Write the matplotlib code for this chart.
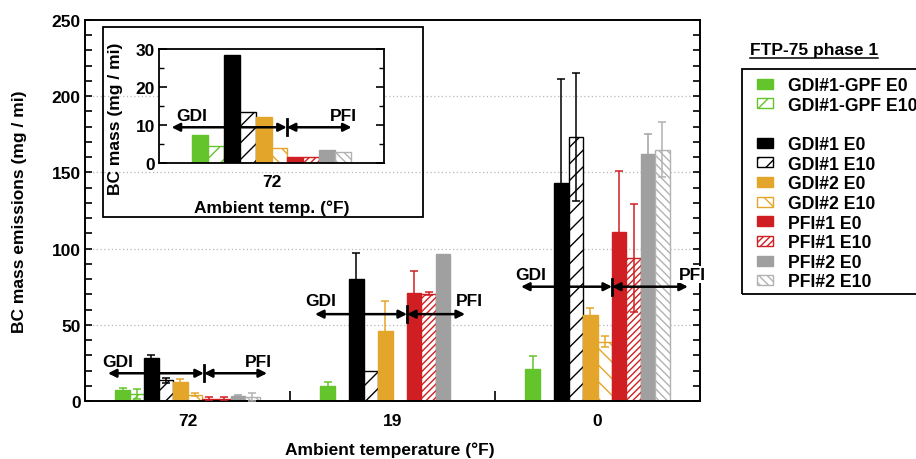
import numpy as np
import matplotlib
matplotlib.use("Agg")
import matplotlib.pyplot as plt
from matplotlib.patches import Patch, Rectangle
from matplotlib.lines import Line2D

plt.rcParams['font.family'] = ['Liberation Sans', 'DejaVu Sans']
plt.rcParams['font.weight'] = 'bold'
plt.rcParams['hatch.linewidth'] = 1.0

# ---------------- data ----------------
categories = ['72', '19', '0']
series = ['GDI#1-GPF E0', 'GDI#1-GPF E10', 'GDI#1 E0', 'GDI#1 E10', 'GDI#2 E0',
          'GDI#2 E10', 'PFI#1 E0', 'PFI#1 E10', 'PFI#2 E0', 'PFI#2 E10']
gpf_e0 = [7.5, 10.0, 21.0]
gpf_e0_err = [1.0, 2.2, 8.7]
gpf_e10 = [4.5, np.nan, np.nan]
gpf_e10_err = [3.5, np.nan, np.nan]
gdi1_e0 = [28.5, 80.0, 143.0]
gdi1_e0_err = [2.0, 17.0, 68.0]
gdi1_e10 = [13.5, 19.5, 173.0]
gdi1_e10_err = [1.5, 0.0, 42.0]
gdi2_e0 = [12.2, 46.0, 56.5]
gdi2_e0_err = [2.5, 19.5, 4.5]
gdi2_e10 = [4.0, np.nan, 39.0]
gdi2_e10_err = [1.0, np.nan, 3.5]
pfi1_e0 = [1.6, 71.0, 111.0]
pfi1_e0_err = [1.0, 14.0, 40.0]
pfi1_e10 = [1.6, 70.5, 94.0]
pfi1_e10_err = [0.8, 1.2, 35.5]
pfi2_e0 = [3.5, 96.5, 162.0]
pfi2_e0_err = [0.7, 0.0, 13.0]
pfi2_e10 = [2.8, np.nan, 165.0]
pfi2_e10_err = [2.5, np.nan, 18.0]

values = [gpf_e0, gpf_e10, gdi1_e0, gdi1_e10, gdi2_e0, gdi2_e10, pfi1_e0, pfi1_e10, pfi2_e0, pfi2_e10]
errors = [gpf_e0_err, gpf_e10_err, gdi1_e0_err, gdi1_e10_err, gdi2_e0_err, gdi2_e10_err,
          pfi1_e0_err, pfi1_e10_err, pfi2_e0_err, pfi2_e10_err]

# GDI / PFI annotation heights (data units)
arrow_y = [18.2, 57.0, 75.0]
label_y = [26.0, 66.0, 83.0]
inset_arrow_y = 9.4
inset_label_y = 12.5

# ---------------- styles ----------------
green = '#63c42b'
orange = '#e4a52b'
red = '#cf1f22'
gray = '#a0a0a0'
lgray = '#b2b2b2'
styles = [
    dict(fc=green, ec=green, hatch=None),
    dict(fc='white', ec=green, hatch='//'),
    dict(fc='black', ec='black', hatch=None),
    dict(fc='white', ec='black', hatch='//'),
    dict(fc=orange, ec=orange, hatch=None),
    dict(fc='white', ec=orange, hatch='\\\\'),
    dict(fc=red, ec=red, hatch=None),
    dict(fc='white', ec=red, hatch='/////'),
    dict(fc=gray, ec=gray, hatch=None),
    dict(fc='white', ec=lgray, hatch='\\\\\\\\'),
]

FS = 12.5
W, H = 916, 460
fig = plt.figure(figsize=(W / 100, H / 100), dpi=100)


def fx(px):
    return px / W


def fy(py):
    return 1 - py / H


ax = fig.add_axes([fx(85), fy(402), fx(700) - fx(85), fy(21) - fy(402)])
bw = 0.0703
centers = np.arange(len(categories)) + 0.5

for i, (vals, errs, st) in enumerate(zip(values, errors, styles)):
    xs = centers + (i - 4.5) * bw
    vals = np.array(vals, dtype=float)
    errs = np.array(errs, dtype=float)
    ax.bar(xs, vals, width=bw, color=st['fc'], edgecolor=st['ec'], hatch=st['hatch'],
           linewidth=1.0, zorder=2)
    m = np.isfinite(vals) & np.isfinite(errs) & (errs > 0)
    ax.errorbar(xs[m], vals[m], yerr=errs[m], fmt='none', ecolor=st['ec'],
                elinewidth=1.1, capsize=3, capthick=1.1, zorder=3)

ax.set_xlim(0, 3)
ax.set_ylim(0, 250)
ax.set_yticks(np.arange(0, 251, 50))
ax.set_yticks(np.arange(0, 251, 10), minor=True)
ax.set_yticklabels([str(v) for v in range(0, 251, 50)], fontsize=FS, fontweight='bold')
ax.set_xticks(centers)
ax.set_xticklabels(categories, fontsize=FS, fontweight='bold')
ax.set_xticks([1, 2], minor=True)
ax.tick_params(axis='x', which='major', length=0, pad=9)
ax.tick_params(axis='x', which='minor', direction='in', length=7, width=1.2)
ax.tick_params(axis='y', which='both', direction='in', left=True, right=True,
               length=5, width=1.2, pad=3)
for yv in [50, 100, 150, 200]:
    ax.axhline(yv, color='#b8b8b8', lw=0.9, ls=(0, (1, 2)), zorder=0)
for s in ax.spines.values():
    s.set_linewidth(1.4)

ax.set_ylabel('BC mass emissions (mg / mi)', fontsize=FS, fontweight='bold')
ax.yaxis.set_label_coords(-0.095, 0.5)
ax.set_xlabel('Ambient temperature (°F)', fontsize=FS, fontweight='bold')
ax.xaxis.set_label_coords(0.496, -0.105)

arrow_kw = dict(arrowstyle='<|-|>', color='black', lw=1.8, mutation_scale=12,
                shrinkA=0, shrinkB=0)
gdi_left = [0.112, 1.122, 2.127]
sep_x = [0.580, 1.571, 2.571]
pfi_right = [0.888, 1.854, 2.941]
gdi_text_x = [0.159, 1.151, 2.175]
pfi_text_x = [0.844, 1.873, 2.962]
for k in range(3):
    yv = arrow_y[k]
    ax.annotate('', xy=(gdi_left[k], yv), xytext=(sep_x[k], yv), arrowprops=arrow_kw, zorder=6)
    ax.annotate('', xy=(pfi_right[k], yv), xytext=(sep_x[k], yv), arrowprops=arrow_kw, zorder=6)
    ax.plot([sep_x[k], sep_x[k]], [yv - 5.3, yv + 5.3], color='black', lw=2, zorder=6)
    ax.text(gdi_text_x[k], label_y[k], 'GDI', ha='center', va='center', fontsize=FS,
            fontweight='bold', zorder=7)
    t = ax.text(pfi_text_x[k], label_y[k], 'PFI', ha='center', va='center', fontsize=FS,
                fontweight='bold', zorder=7, clip_on=False)
    if k == 2:
        t.set_bbox(dict(facecolor='white', edgecolor='none', pad=1))

# ---------------- inset ----------------
frame = Rectangle((fx(103), fy(218)), fx(423) - fx(103), fy(28) - fy(218),
                  transform=fig.transFigure, fill=False, ec='black', lw=1.3, zorder=1)
fig.add_artist(frame)
axi = fig.add_axes([fx(159), fy(164), fx(384) - fx(159), fy(50) - fy(164)], zorder=2)
for i, (vals, st) in enumerate(zip(values, styles)):
    axi.bar(0.5 + (i - 4.5) * bw, vals[0], width=bw, color=st['fc'], edgecolor=st['ec'],
            hatch=st['hatch'], linewidth=1.0)
axi.set_xlim(0, 1)
axi.set_ylim(0, 30)
axi.set_yticks([0, 10, 20, 30])
axi.set_yticks([5, 15, 25], minor=True)
axi.set_yticklabels(['0', '10', '20', '30'], fontsize=FS, fontweight='bold')
axi.set_xticks([0.5])
axi.set_xticklabels(['72'], fontsize=FS, fontweight='bold')
axi.tick_params(axis='x', length=0, pad=8)
axi.tick_params(axis='y', which='major', direction='in', left=True, right=True,
                length=6, width=1.2, pad=3)
axi.tick_params(axis='y', which='minor', direction='in', left=True, right=True,
                length=3.5, width=1.0)
for s in axi.spines.values():
    s.set_linewidth(1.3)
axi.set_ylabel('BC mass (mg / mi)', fontsize=FS, fontweight='bold')
axi.yaxis.set_label_coords(-0.16, 0.40)
axi.set_xlabel('Ambient temp. (°F)', fontsize=FS, fontweight='bold')
axi.xaxis.set_label_coords(0.5, -0.32)
axi.annotate('', xy=(0.056, inset_arrow_y), xytext=(0.568, inset_arrow_y), arrowprops=arrow_kw)
axi.annotate('', xy=(0.856, inset_arrow_y), xytext=(0.568, inset_arrow_y), arrowprops=arrow_kw)
axi.plot([0.568, 0.568], [inset_arrow_y - 2.1, inset_arrow_y + 2.1], color='black', lw=2)
axi.text(0.144, inset_label_y, 'GDI', ha='center', va='center', fontsize=FS, fontweight='bold')
axi.text(0.818, inset_label_y, 'PFI', ha='center', va='center', fontsize=FS, fontweight='bold')

# ---------------- legend ----------------
handles = []
labels = []
for i, (name, st) in enumerate(zip(series, styles)):
    handles.append(Patch(facecolor=st['fc'], edgecolor=st['ec'], hatch=st['hatch'], lw=1.0))
    labels.append(name)
    if i == 1:
        handles.append(Patch(facecolor='none', edgecolor='none'))
        labels.append(' ')
LFS = 12.7
leg = fig.legend(handles, labels, loc='upper left', bbox_to_anchor=(fx(757), fy(78)),
                 fontsize=LFS, frameon=False,
                 handlelength=0.91, handleheight=0.5, handletextpad=0.85,
                 labelspacing=0.15, borderpad=0, borderaxespad=0)
for t in leg.get_texts():
    t.set_fontweight('bold')
legframe = Rectangle((fx(742), fy(295)), fx(940) - fx(742), fy(70) - fy(295),
                     transform=fig.transFigure, fill=False, ec='black', lw=1.3,
                     clip_on=False)
fig.add_artist(legframe)

title = fig.text(fx(814), fy(51), 'FTP-75 phase 1', ha='center', va='center',
                 fontsize=FS, fontweight='bold')
fig.canvas.draw()
bb = title.get_window_extent()
uy = bb.y0 - 0.5
fig.add_artist(Line2D([bb.x0 / W, bb.x1 / W], [uy / H, uy / H], color='black', lw=1.1,
                      transform=fig.transFigure))

fig.savefig('out.png', dpi=100)
